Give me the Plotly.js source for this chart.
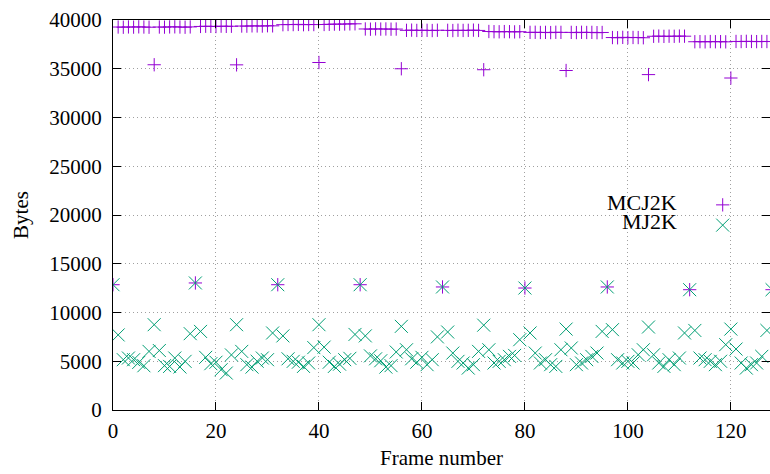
<!DOCTYPE html>
<html>
<head>
<meta charset="utf-8">
<script src="https://cdn.plot.ly/plotly-3.0.1.min.js"></script>
<style>html,body{margin:0;padding:0;background:#fff;}#chart{width:770px;height:474px;}</style>
</head>
<body>
<div id="chart"></div>
<script>
// Bytes per frame, frames 0..128
const mcj2k = [
  12850,
  39280, 39260, 39290, 39270, 39300, 39280, 39260,
  35410,
  39280, 39270, 39290, 39300, 39280, 39260, 39290,
  13030,
  39340, 39360, 39350, 39330, 39370, 39350, 39360,
  35400,
  39380, 39370, 39400, 39390, 39380, 39410, 39400,
  12850,
  39520, 39540, 39530, 39550, 39520, 39540, 39530,
  35640,
  39540, 39560, 39580, 39570, 39590, 39600, 39610,
  12850,
  39080, 39060, 39090, 39070, 39080, 39060, 39070,
  35000,
  38940, 38960, 38930, 38950, 38940, 38920, 38950,
  12620,
  38940, 38920, 38950, 38930, 38940, 38960, 38930,
  34900,
  38820, 38800, 38790, 38810, 38800, 38780, 38800,
  12510,
  38730, 38740, 38720, 38730, 38710, 38740, 38730,
  34820,
  38730, 38710, 38740, 38720, 38730, 38700, 38720,
  12620,
  38200, 38180, 38220, 38190, 38210, 38200, 38180,
  34400,
  38330, 38350, 38320, 38340, 38330, 38350, 38340,
  12340,
  37770, 37780, 37760, 37790, 37770, 37780, 37760,
  34050,
  37800, 37790, 37810, 37800, 37780, 37800, 37790,
  12340
];
const mj2k = [
  12850,
  7700, 5160, 5330, 5160, 4880, 4540, 6010,
  8750,
  6100, 4550, 4470, 5330, 4410, 4990, 7830,
  13030,
  8060, 5400, 4750, 4900, 4130, 3790, 5650,
  8750,
  6010, 4650, 4400, 5000, 5330, 5160, 7900,
  12850,
  7600, 5250, 4990, 4900, 4470, 4820, 6400,
  8750,
  6450, 4900, 4470, 4700, 5160, 5300, 7750,
  12850,
  7600, 5550, 5250, 5050, 4400, 4550, 5950,
  8580,
  6180, 5250, 4900, 5400, 4650, 5160, 7500,
  12620,
  8000, 5840, 4990, 4820, 4300, 4650, 6010,
  8700,
  6180, 4820, 4990, 5160, 5500, 5600, 7210,
  12510,
  7900, 5840, 4820, 5160, 4650, 4470, 6180,
  8300,
  6360, 4650, 4820, 5160, 5500, 5840, 8060,
  12620,
  8240, 5160, 4820, 4990, 4820, 5670, 6180,
  8510,
  5670, 4820, 4470, 5160, 4650, 5330, 7900,
  12340,
  8160, 5330, 5160, 4990, 4650, 5000, 6700,
  8300,
  6250, 4820, 4300, 4650, 4820, 5500, 8160,
  12340
];
const frames = mj2k.map((_, i) => i);
const seriesNames = ['MCJ2K', 'MJ2K'];
const xTicks = [0, 20, 40, 60, 80, 100, 120];
const yTicks = [0, 5000, 10000, 15000, 20000, 25000, 30000, 35000, 40000];

const purple = '#9400d3';
const green = '#009e73';
const font = 'Liberation Serif, Times New Roman, serif';

const plusMarker = {symbol: 'cross-thin-open', size: 9.5, color: purple, line: {color: purple, width: 1}};
const xMarker = {symbol: 'x-thin-open', size: 13, color: green, line: {color: green, width: 1}};

const traces = [
  {x: frames, y: mcj2k, name: seriesNames[0], type: 'scatter', mode: 'markers', marker: plusMarker, showlegend: false},
  {x: frames, y: mj2k, name: seriesNames[1], type: 'scatter', mode: 'markers', marker: xMarker, showlegend: false},
  // legend samples on an overlay axis
  {x: [0.928], y: [0.526], xaxis: 'x2', yaxis: 'y2', type: 'scatter', mode: 'markers', marker: plusMarker, showlegend: false, hoverinfo: 'skip'},
  {x: [0.928], y: [0.474], xaxis: 'x2', yaxis: 'y2', type: 'scatter', mode: 'markers', marker: xMarker, showlegend: false, hoverinfo: 'skip'}
];

const axisCommon = {
  ticks: 'inside', ticklen: 8, tickwidth: 1, tickcolor: '#000',
  showline: true, linecolor: '#000', linewidth: 1, mirror: 'ticks',
  showgrid: true, gridcolor: '#a0a0a0', gridwidth: 1, griddash: '1px,3px',
  zeroline: false,
  tickfont: {family: font, size: 21, color: '#000'}
};

const layout = {
  width: 770, height: 474,
  margin: {l: 113, r: 0, t: 20, b: 64},
  paper_bgcolor: '#fff', plot_bgcolor: '#fff',
  showlegend: false,
  xaxis: Object.assign({}, axisCommon, {
    range: [0, 127.6], tickvals: xTicks, ticktext: xTicks.map(String),
    ticklabelstandoff: 2,
    title: {text: 'Frame number', font: {family: font, size: 21, color: '#000'}, standoff: 8}
  }),
  yaxis: Object.assign({}, axisCommon, {
    range: [0, 40000], tickvals: yTicks, ticktext: yTicks.map(String),
    ticklabelstandoff: 6,
    title: {text: 'Bytes', font: {family: font, size: 21, color: '#000'}, standoff: 14}
  }),
  xaxis2: {domain: [0, 1], range: [0, 1], overlaying: 'x', anchor: 'y2', visible: false, fixedrange: true},
  yaxis2: {domain: [0, 1], range: [0, 1], overlaying: 'y', anchor: 'x2', visible: false, fixedrange: true},
  annotations: [
    {text: seriesNames[0], xref: 'paper', yref: 'paper', x: 0.862, y: 0.533, xanchor: 'right', yanchor: 'middle', showarrow: false, font: {family: font, size: 22, color: '#000'}},
    {text: seriesNames[1], xref: 'paper', yref: 'paper', x: 0.862, y: 0.483, xanchor: 'right', yanchor: 'middle', showarrow: false, font: {family: font, size: 22, color: '#000'}}
  ]
};

Plotly.newPlot('chart', traces, layout, {staticPlot: true, displayModeBar: false});
</script>
</body>
</html>
